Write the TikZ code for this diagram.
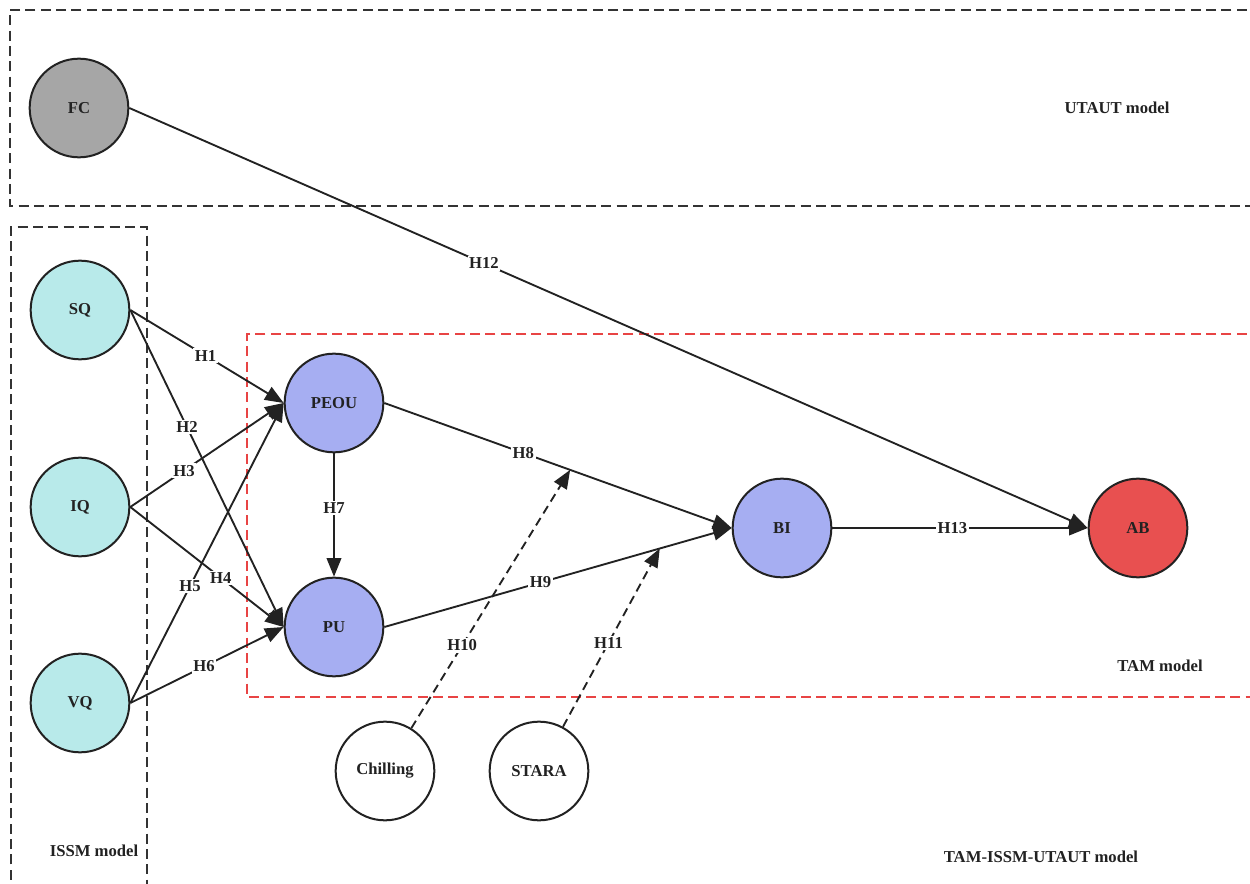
\documentclass[tikz,border=0pt]{standalone}
\usepackage{fontspec}
\setmainfont{Liberation Serif}
\usetikzlibrary{arrows.meta,calc}
\definecolor{inkc}{HTML}{222222}
\definecolor{boxc}{HTML}{333333}
\definecolor{tamred}{HTML}{E84444}
\definecolor{fcgray}{HTML}{A6A6A6}
\definecolor{issmcyan}{HTML}{B8EAEA}
\definecolor{tamblue}{HTML}{A6AEF2}
\definecolor{abred}{HTML}{E85050}
\begin{document}
\begin{tikzpicture}[x=0.75pt,y=-0.75pt,
  every node/.style={font=\bfseries\fontsize{12.5}{14}\selectfont, text=inkc},
  latent/.style={circle, draw=inkc, line width=1.5pt, minimum size=74pt, inner sep=0pt},
  link/.style={draw=inkc, line width=1.4pt, -{Triangle[length=14pt,width=11pt]}},
  modlink/.style={link, dash pattern=on 6.5pt off 4pt},
  hlabel/.style={fill=white, inner sep=1.2pt},
  groupbox/.style={draw=boxc, line width=1.8pt, dash pattern=on 7.5pt off 4pt},
  tambox/.style={draw=tamred, line width=1.6pt, dash pattern=on 7.5pt off 4pt}]
\clip (0,0) rectangle (1250,884);
\fill[white] (0,0) rectangle (1250,884);

% model groupings
\draw[groupbox] (1262,10) -- (10,10) -- (10,206) -- (1262,206);
\draw[groupbox] (11,895) -- (11,227) -- (147,227) -- (147,895);
\draw[tambox] (1262,334) -- (247,334) -- (247,697) -- (1262,697);

\node (lutaut) at (1117,108) {UTAUT model};
\node (lissm) at (94,851) {ISSM model};
\node (ltam) at (1160,666) {TAM model};
\node (lall) at (1041,857) {TAM-ISSM-UTAUT model};

% constructs
\node[latent, fill=fcgray] (FC) at (79,108) {FC};
\node[latent, fill=issmcyan] (SQ) at (80,310) {SQ};
\node[latent, fill=issmcyan] (IQ) at (80,507) {IQ};
\node[latent, fill=issmcyan] (VQ) at (80,703) {VQ};
\node[latent, fill=tamblue] (PEOU) at (334,403) {PEOU};
\node[latent, fill=tamblue] (PU) at (334,627) {PU};
\node[latent, fill=tamblue] (BI) at (782,528) {BI};
\node[latent, fill=abred] (AB) at (1138,528) {AB};
\node[latent, fill=white] (Chill) at (385,771) {Chilling};
\node[latent, fill=white] (STARA) at (539,771) {STARA};

% hypotheses
\draw[link] (FC.east) -- node[hlabel, pos=0.37] {H12} (AB.west);
\draw[link] (SQ.east) -- node[hlabel, pos=0.49] {H1} (PEOU.west);
\draw[link] (SQ.east) -- node[hlabel, pos=0.37] {H2} (PU.west);
\draw[link] (IQ.east) -- node[hlabel, pos=0.35] {H3} (PEOU.west);
\draw[link] (IQ.east) -- node[hlabel, pos=0.59] {H4} (PU.west);
\draw[link] (VQ.east) -- node[hlabel, pos=0.39] {H5} (PEOU.west);
\draw[link] (VQ.east) -- node[hlabel, pos=0.48] {H6} (PU.west);
\draw[link] (PEOU.south) -- node[hlabel, pos=0.44] {H7} (PU.north);
\draw[link] (PEOU.east) -- node[hlabel, pos=0.40] {H8} (BI.west);
\draw[link] (PU.east) -- node[hlabel, pos=0.45] {H9} (BI.west);
\draw[link] (BI.east) -- node[hlabel, pos=0.47] {H13} (AB.west);

% moderating effects
\coordinate (m8) at ($(PEOU.east)!0.535!(BI.west)$);
\coordinate (m9) at ($(PU.east)!0.793!(BI.west)$);
\draw[modlink] (Chill) -- node[hlabel, pos=0.32] {H10} (m8);
\draw[modlink] (STARA) -- node[hlabel, pos=0.47] {H11} (m9);
\end{tikzpicture}
\end{document}
